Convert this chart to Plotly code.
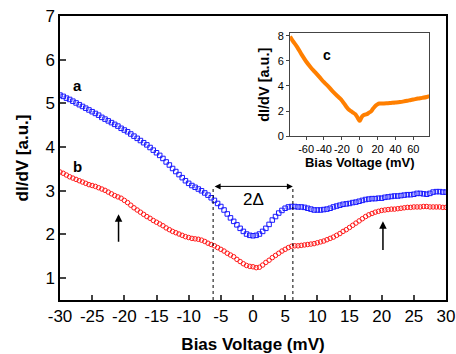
import numpy as np
import plotly.graph_objects as go

bias = list(np.arange(-30, 30.5, 0.5))

curve_a = [5.19, 5.16, 5.12, 5.09, 5.05, 5.01, 4.97, 4.93, 4.89, 4.85, 4.81, 4.77, 4.73, 4.68, 4.64, 4.60,
           4.56, 4.52, 4.48, 4.43, 4.39, 4.35, 4.30, 4.25, 4.20, 4.15, 4.10, 4.05, 3.99, 3.93, 3.87, 3.81,
           3.74, 3.66, 3.59, 3.51, 3.44, 3.37, 3.30, 3.23, 3.17, 3.12, 3.08, 3.04, 3.00, 2.95, 2.90, 2.84,
           2.78, 2.71, 2.64, 2.56, 2.47, 2.38, 2.30, 2.22, 2.14, 2.07, 2.01, 1.98, 1.97, 1.98, 2.01, 2.07,
           2.14, 2.23, 2.33, 2.41, 2.49, 2.55, 2.60, 2.63, 2.64, 2.64, 2.63, 2.63, 2.62, 2.60, 2.58, 2.56,
           2.56, 2.56, 2.57, 2.58, 2.60, 2.63, 2.65, 2.67, 2.69, 2.70, 2.71, 2.73, 2.74, 2.76, 2.78, 2.80,
           2.81, 2.82, 2.82, 2.83, 2.83, 2.85, 2.86, 2.87, 2.88, 2.88, 2.89, 2.90, 2.91, 2.91, 2.92, 2.94,
           2.94, 2.93, 2.92, 2.94, 2.97, 2.98, 2.98, 2.97, 2.97]

curve_b = [3.43, 3.40, 3.36, 3.32, 3.29, 3.26, 3.23, 3.20, 3.17, 3.14, 3.12, 3.10, 3.07, 3.04, 3.01, 2.97,
           2.93, 2.89, 2.86, 2.83, 2.78, 2.73, 2.67, 2.61, 2.56, 2.51, 2.46, 2.41, 2.37, 2.32, 2.28, 2.24,
           2.20, 2.15, 2.11, 2.07, 2.04, 2.01, 1.98, 1.95, 1.93, 1.91, 1.90, 1.89, 1.87, 1.84, 1.80, 1.77,
           1.74, 1.70, 1.66, 1.62, 1.57, 1.53, 1.49, 1.43, 1.38, 1.33, 1.29, 1.27, 1.26, 1.24, 1.25, 1.30,
           1.36, 1.41, 1.47, 1.52, 1.57, 1.62, 1.66, 1.70, 1.73, 1.74, 1.74, 1.75, 1.76, 1.77, 1.78, 1.79,
           1.81, 1.83, 1.85, 1.88, 1.91, 1.94, 1.98, 2.02, 2.07, 2.11, 2.16, 2.21, 2.26, 2.31, 2.36, 2.41,
           2.45, 2.48, 2.51, 2.53, 2.55, 2.56, 2.57, 2.58, 2.58, 2.59, 2.60, 2.61, 2.62, 2.62, 2.63, 2.63,
           2.63, 2.64, 2.64, 2.63, 2.63, 2.63, 2.63, 2.62, 2.62]

inset_bias = [-78, -75, -70, -65, -60, -55, -50, -45, -40, -35, -30, -25, -22, -20, -18, -15, -12, -10, -8,
              -5, -3, -1, 0, 1, 3, 5, 8, 10, 13, 15, 18, 20, 22, 25, 30, 35, 40, 45, 50, 55, 60, 65, 70, 75, 78]
curve_c = [7.95, 7.6, 7.1, 6.5, 5.95, 5.5, 5.1, 4.7, 4.3, 3.95, 3.55, 3.2, 3.0, 2.85, 2.65, 2.35, 2.1, 2.0,
           1.9, 1.75, 1.55, 1.3, 1.22, 1.35, 1.6, 1.7, 1.75, 1.85, 2.0, 2.2, 2.45, 2.55, 2.6, 2.6, 2.62, 2.65,
           2.68, 2.72, 2.78, 2.85, 2.92, 3.0, 3.05, 3.12, 3.2]

main_xticks = [-30, -25, -20, -15, -10, -5, 0, 5, 10, 15, 20, 25, 30]
main_xlabels = ["-30", "-25", "-20", "-15", "-10", "-5", "0", "5", "10", "15", "20", "25", "30"]
main_yticks = [1, 2, 3, 4, 5, 6, 7]
inset_xticks = [-60, -40, -20, 0, 20, 40, 60]
inset_xlabels = ["-60", "-40", "-20", "0", "20", "40", "60"]
inset_yticks = [0, 2, 4, 6, 8]

FONT = "Liberation Sans, Arial, sans-serif"

fig = go.Figure()
fig.add_trace(go.Scatter(x=bias, y=curve_a, mode="markers",
                         marker=dict(symbol="square-open", size=4.5, color="#1a1aff", line=dict(width=1)),
                         showlegend=False))
fig.add_trace(go.Scatter(x=bias, y=curve_b, mode="markers",
                         marker=dict(symbol="circle-open", size=4.5, color="#ff1a1a", line=dict(width=1)),
                         showlegend=False))
fig.add_trace(go.Scatter(x=inset_bias, y=curve_c, mode="lines", xaxis="x2", yaxis="y2",
                         line=dict(color="#ff7f00", width=4, shape="spline"), showlegend=False))

fig.update_layout(
    width=456, height=354,
    margin=dict(l=60, r=10, t=16, b=54),
    paper_bgcolor="white", plot_bgcolor="white",
    font=dict(family=FONT, color="black", size=17),
    xaxis=dict(range=[-30, 30], tickvals=main_xticks, ticktext=main_xlabels, ticks="inside", ticklen=5,
               tickwidth=1.5, showline=True, linecolor="black", linewidth=1.5, mirror=True, showgrid=False,
               zeroline=False, tickfont=dict(size=17), tickangle=0, automargin=False,
               title=dict(text="<b>Bias Voltage (mV)</b>", font=dict(size=17), standoff=13)),
    yaxis=dict(range=[0.5, 7], tickvals=main_yticks, ticks="inside", ticklen=6, tickwidth=1.5,
               showline=True, linecolor="black", linewidth=1.5, mirror=True, showgrid=False, zeroline=False,
               tickfont=dict(size=17), automargin=False,
               title=dict(text="<b>dI/dV [a.u.]</b>", font=dict(size=17), standoff=12)),
    xaxis2=dict(domain=[0.596, 0.957], anchor="y2", range=[-78, 78], tickvals=inset_xticks,
                ticktext=inset_xlabels, tickangle=0, automargin=False,
                ticks="outside", ticklen=3, showline=True, linecolor="#444", linewidth=1, mirror=True,
                showgrid=False, zeroline=False, tickfont=dict(size=11),
                title=dict(text="<b>Bias Voltage (mV)</b>", font=dict(size=13), standoff=3)),
    yaxis2=dict(domain=[0.577, 0.939], anchor="x2", range=[0, 8.2], tickvals=inset_yticks,
                ticks="outside", ticklen=3, showline=True, linecolor="#444", linewidth=1, mirror=True,
                showgrid=False, zeroline=False, tickfont=dict(size=11), automargin=False,
                title=dict(text="<b>dI/dV [a.u.]</b>", font=dict(size=14.5), standoff=4)),
)

for xv in [-6.2, 6.2]:
    fig.add_shape(type="line", x0=xv, x1=xv, y0=0.5, y1=3.1, xref="x", yref="y",
                  line=dict(color="black", width=1, dash="dot"))

fig.add_annotation(x=6.2, y=3.1, ax=-6.2, ay=3.1, xref="x", yref="y", axref="x", ayref="y",
                   showarrow=True, arrowhead=2, arrowside="end+start", arrowwidth=1, arrowsize=1.2,
                   arrowcolor="black", text="")
fig.add_annotation(x=0, y=2.8, xref="x", yref="y", text="2\u0394", showarrow=False, font=dict(size=17))

fig.add_annotation(x=-20.9, y=2.46, ax=-20.9, ay=1.8, xref="x", yref="y", axref="x", ayref="y",
                   showarrow=True, arrowhead=2, arrowwidth=1.5, arrowsize=1, arrowcolor="black", text="")
fig.add_annotation(x=20.2, y=2.30, ax=20.2, ay=1.61, xref="x", yref="y", axref="x", ayref="y",
                   showarrow=True, arrowhead=2, arrowwidth=1.5, arrowsize=1, arrowcolor="black", text="")

fig.add_annotation(x=-27.3, y=5.4, xref="x", yref="y", text="<b>a</b>", showarrow=False, font=dict(size=15))
fig.add_annotation(x=-27.3, y=3.55, xref="x", yref="y", text="<b>b</b>", showarrow=False, font=dict(size=15))
fig.add_annotation(x=-37, y=6.5, xref="x2", yref="y2", text="<b>c</b>", showarrow=False, font=dict(size=14))

fig.write_html("out.html")
